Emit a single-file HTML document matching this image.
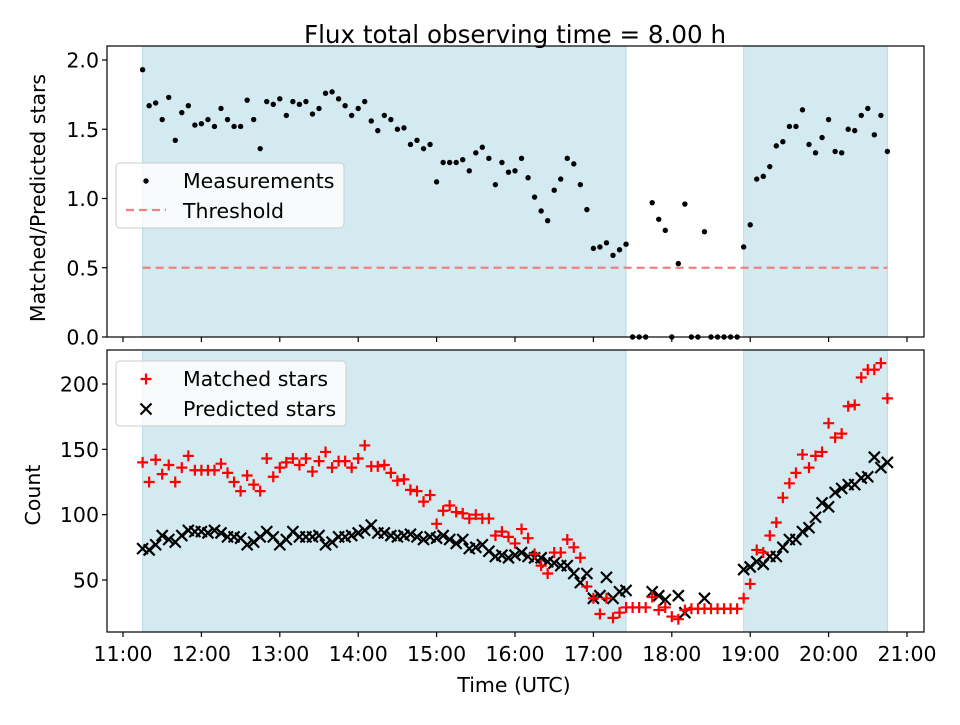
<!DOCTYPE html>
<html><head><meta charset="utf-8"><style>
body{margin:0;background:#fff;font-family:"Liberation Sans","DejaVu Sans",sans-serif}
svg text{font-family:"DejaVu Sans","Liberation Sans",sans-serif;fill:#000}
</style></head><body>
<svg id="chart" width="960" height="720" viewBox="0 0 960 720" xmlns="http://www.w3.org/2000/svg"></svg>
<script>
const times=[675,680,685,690,695,700,705,710,715,720,725,730,735,740,745,750,755,760,765,770,775,780,785,790,795,800,805,810,815,820,825,830,835,840,845,850,855,860,865,870,875,880,885,890,895,900,905,910,915,920,925,930,935,940,945,950,955,960,965,970,975,980,985,990,995,1000,1005,1010,1015,1020,1025,1030,1035,1040,1045,1050,1055,1060,1065,1070,1075,1080,1085,1090,1095,1100,1105,1110,1115,1120,1125,1130,1135,1140,1145,1150,1155,1160,1165,1170,1175,1180,1185,1190,1195,1200,1205,1210,1215,1220,1225,1230,1235,1240,1245];
const ratio=[1.93,1.67,1.69,1.57,1.73,1.42,1.62,1.67,1.53,1.54,1.57,1.52,1.65,1.57,1.52,1.52,1.71,1.57,1.36,1.70,1.68,1.72,1.60,1.70,1.68,1.70,1.61,1.65,1.76,1.77,1.72,1.67,1.60,1.65,1.70,1.56,1.49,1.60,1.57,1.50,1.51,1.39,1.42,1.36,1.39,1.12,1.26,1.26,1.26,1.28,1.20,1.33,1.37,1.29,1.10,1.26,1.19,1.20,1.29,1.15,1.01,0.91,0.84,1.06,1.14,1.29,1.25,1.10,0.92,0.64,0.65,0.68,0.59,0.63,0.67,0,0,0,0.97,0.85,0.77,0,0.53,0.96,0,0,0.76,0,0,0,0,0,0.65,0.81,1.14,1.16,1.23,1.38,1.41,1.52,1.52,1.64,1.39,1.33,1.44,1.57,1.34,1.33,1.50,1.49,1.60,1.65,1.46,1.60,1.34];
const matched=[140,125,142,131,138,125,136,145,134,134,134,134,139,132,125,118,130,123,118,143,129,136,140,143,138,143,133,141,148,136,141,141,136,143,153,137,137,138,132,126,127,119,118,110,115,93,103,107,102,101,97,100,97,97,84,87,83,78,89,82,70,61,55,71,71,81,75,67,45,36,24,36,21,25,29,29,29,29,37,27,29,22,20,27,28,28,28,28,28,28,28,28,36,47,73,71,84,94,113,124,132,146,136,145,148,170,159,162,183,184,205,211,211,216,189];
const predicted=[74,73,77,84,81,79,84,88,87,87,86,88,86,83,83,82,77,79,83,87,83,77,81,87,83,83,83,84,77,79,83,83,84,86,88,92,86,86,84,83,84,85,83,81,83,82,84,81,78,81,74,75,77,72,68,69,67,69,71,68,67,67,64,63,61,61,55,48,55,36,38,52,36,41,42,null,null,null,41,38,35,null,38,25,null,null,36,null,null,null,null,null,58,60,64,62,68,68,75,81,81,87,90,98,109,106,117,120,123,123,128,129,144,136,140];
const spans=[[675,1045],[1135,1245]];
const threshold=0.5;
const xTicks=[660,720,780,840,900,960,1020,1080,1140,1200,1260];
const xTickLabels=["11:00","12:00","13:00","14:00","15:00","16:00","17:00","18:00","19:00","20:00","21:00"];
const topTicks=[0,0.5,1.0,1.5,2.0];
const topTickLabels=["0.0","0.5","1.0","1.5","2.0"];
const botTicks=[50,100,150,200];
const botTickLabels=["50","100","150","200"];

const NS="http://www.w3.org/2000/svg";
const svg=document.getElementById('chart');
function mk(tag,attrs,parent){const e=document.createElementNS(NS,tag);for(const k in attrs)e.setAttribute(k,attrs[k]);(parent||svg).appendChild(e);return e;}
const L=107,R=924,T1=46,B1=337,T2=350,B2=632;
const FS=20.5;
const x=t=>123+(t-660)*784/600;
const y1=v=>337-v*138.5;
const y2=v=>580-(v-50)*196/150;

function panel(T,B,name){
  const g=mk('g',{});
  
  
  for(const s of spans){
    const r=mk('rect',{x:x(s[0]),y:T,width:x(s[1])-x(s[0]),height:B-T,fill:'#d4eaf1',stroke:'#b9dbe7','stroke-width':1},g);
    
    
  }
  return g;
}
const gTop=panel(T1,B1,'top-panel');
const gBot=panel(T2,B2,'bottom-panel');

const th=mk('line',{x1:x(spans[0][0]),x2:x(spans[1][1]),y1:y1(threshold),y2:y1(threshold),stroke:'#f08080','stroke-width':2.2,'stroke-dasharray':'8,5'},gTop);



times.forEach((t,i)=>{
  const c=mk('circle',{cx:x(t),cy:y1(ratio[i]),r:2.7,fill:'#000'},gTop);
  
  
});
times.forEach((t,i)=>{
  if(predicted[i]==null)return;
  const cx=x(t),cy=y2(predicted[i]),s=5.5;
  const p=mk('path',{d:`M${cx-s},${cy-s}L${cx+s},${cy+s}M${cx-s},${cy+s}L${cx+s},${cy-s}`,stroke:'#000','stroke-width':2.2},gBot);
  
  
});
times.forEach((t,i)=>{
  const cx=x(t),cy=y2(matched[i]),s=5.5;
  const p=mk('path',{d:`M${cx-s},${cy}L${cx+s},${cy}M${cx},${cy-s}L${cx},${cy+s}`,stroke:'#ff0000','stroke-width':2.2},gBot);
  
  
});

[[T1,B1,'top'],[T2,B2,'bottom']].forEach(([T,B,n])=>{
  const f=mk('rect',{x:L,y:T,width:R-L,height:B-T,fill:'none',stroke:'#000','stroke-width':1.2});
  
  
  xTicks.forEach((t,i)=>{
    mk('line',{x1:x(t),x2:x(t),y1:B,y2:B+5,stroke:'#000','stroke-width':1.2});
    if(n==='bottom'){
      const tx=mk('text',{x:x(t),y:B+29,'font-size':FS,'text-anchor':'middle'});
      tx.textContent=xTickLabels[i];
      
      
    }
  });
});
topTicks.forEach((v,i)=>{
  mk('line',{x1:L-5,x2:L,y1:y1(v),y2:y1(v),stroke:'#000','stroke-width':1.2});
  const tx=mk('text',{x:L-8,y:y1(v)+7.5,'font-size':FS,'text-anchor':'end'});
  tx.textContent=topTickLabels[i];
  
  
});
botTicks.forEach((v,i)=>{
  mk('line',{x1:L-5,x2:L,y1:y2(v),y2:y2(v),stroke:'#000','stroke-width':1.2});
  const tx=mk('text',{x:L-8,y:y2(v)+7.5,'font-size':FS,'text-anchor':'end'});
  tx.textContent=botTickLabels[i];
  
  
});
</script>
<svg style="position:absolute;left:0;top:0" width="960" height="720">
  <text x="515" y="43" font-size="24.6" text-anchor="middle" font-family="DejaVu Sans, Liberation Sans, sans-serif">Flux total observing time = 8.00 h</text>
  <text x="514" y="692" font-size="20.5" text-anchor="middle" font-family="DejaVu Sans, Liberation Sans, sans-serif">Time (UTC)</text>
  <text transform="translate(45,198) rotate(-90)" font-size="20.5" text-anchor="middle" font-family="DejaVu Sans, Liberation Sans, sans-serif">Matched/Predicted stars</text>
  <text transform="translate(40,495) rotate(-90)" font-size="20.5" text-anchor="middle" font-family="DejaVu Sans, Liberation Sans, sans-serif">Count</text>
  <g font-family="DejaVu Sans, Liberation Sans, sans-serif" font-size="20.5">
    <rect x="116" y="163" width="228" height="65" rx="4" fill="#fff" fill-opacity="0.8" stroke="#ccc"/>
    <circle cx="146" cy="181" r="2.7" fill="#000"/>
    <text x="183" y="188">Measurements</text>
    <line x1="126" x2="166" y1="210" y2="210" stroke="#f08080" stroke-width="2.2" stroke-dasharray="8,5"/>
    <text x="183" y="218">Threshold</text>
  </g>
  <g font-family="DejaVu Sans, Liberation Sans, sans-serif" font-size="20.5">
    <rect x="116" y="361" width="230" height="65" rx="4" fill="#fff" fill-opacity="0.8" stroke="#ccc"/>
    <path d="M140.5,379H151.5M146,373.5V384.5" stroke="#f00" stroke-width="2.2"/>
    <text x="183" y="386">Matched stars</text>
    <path d="M140.5,403.5L151.5,414.5M140.5,414.5L151.5,403.5" stroke="#000" stroke-width="2.2"/>
    <text x="183" y="416">Predicted stars</text>
  </g>
</svg>
</body></html>
